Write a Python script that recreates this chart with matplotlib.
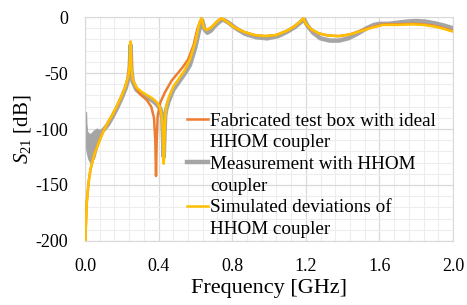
import matplotlib
matplotlib.use("Agg")
import matplotlib.pyplot as plt
from matplotlib.lines import Line2D
from matplotlib.ticker import MultipleLocator

plt.rcParams["font.family"] = ["Liberation Serif", "DejaVu Serif"]
plt.rcParams["mathtext.fontset"] = "custom"
plt.rcParams["mathtext.rm"] = "Liberation Serif"
plt.rcParams["mathtext.it"] = "Liberation Serif:italic"
plt.rcParams["axes.unicode_minus"] = False

# simulated deviations of HHOM coupler (yellow)
f_sim = [0.002, 0.005, 0.01, 0.02, 0.03, 0.05, 0.075, 0.1, 0.125, 0.15, 0.175, 0.2, 0.22, 0.235,
         0.243, 0.248, 0.252, 0.26, 0.28, 0.31, 0.34, 0.37, 0.39, 0.405, 0.415, 0.422, 0.428, 0.432,
         0.436, 0.442, 0.455, 0.48, 0.51, 0.54, 0.57, 0.6, 0.615, 0.625, 0.634, 0.645, 0.66, 0.68,
         0.70, 0.72, 0.743, 0.77, 0.81, 0.86, 0.92, 0.98, 1.04, 1.1, 1.14, 1.17, 1.187, 1.2, 1.23,
         1.27, 1.32, 1.38, 1.44, 1.5, 1.56, 1.62, 1.7, 1.78, 1.84, 1.9, 1.95, 2.0]
s_sim = [-200, -185, -165, -147, -136, -123, -112, -102, -94, -87, -79, -70, -62, -53,
         -42, -22, -45, -56, -63, -67, -70, -73, -76, -80, -86, -98, -131, -110,
         -88, -80, -72, -62, -55, -48, -38, -22, -10, -4, -1, -9, -11.5, -10,
         -7, -3.5, -1, -4, -9, -13, -16, -17, -16, -12, -8, -4, -1, -6, -11,
         -14.5, -16.5, -17, -15.5, -12.5, -9.5, -7, -7, -6.5, -7, -8.5, -10.5, -13]

# fabricated test box with ideal HHOM coupler (orange)
f_fab = [0.002, 0.005, 0.01, 0.02, 0.03, 0.05, 0.075, 0.1, 0.125, 0.15, 0.175, 0.2, 0.22, 0.235,
         0.243, 0.248, 0.252, 0.26, 0.28, 0.3, 0.335, 0.36, 0.375, 0.382, 0.386, 0.39, 0.395,
         0.41, 0.435, 0.47, 0.5, 0.53, 0.56, 0.59, 0.61, 0.625, 0.634, 0.645, 0.66, 0.68,
         0.70, 0.72, 0.743, 0.77, 0.81, 0.86, 0.92, 0.98, 1.04, 1.1, 1.14, 1.17, 1.187, 1.2, 1.23,
         1.27, 1.32, 1.38, 1.44, 1.5, 1.56, 1.62, 1.7, 1.78, 1.84, 1.9, 1.95, 2.0]
s_fab = [-200, -185, -165, -147, -136, -123, -112, -102, -94, -87, -79, -70, -62, -53,
         -42, -22, -45, -56, -64, -69, -74, -80, -90, -110, -142, -110, -88,
         -76, -67, -57, -51, -45, -38, -25, -11, -4, -1, -9, -11.5, -10,
         -7, -3.5, -1, -4, -9, -13, -16, -17, -16, -12, -8, -4, -1, -6, -11,
         -14.5, -16.5, -17, -15.5, -12, -9, -6.5, -6.5, -6, -6.5, -8, -10, -12.5]

# measurement with HHOM coupler (grey)
f_meas = [0.0, 0.003, 0.01, 0.02, 0.04, 0.06, 0.08, 0.1, 0.125, 0.15, 0.175, 0.2, 0.22, 0.235,
          0.243, 0.248, 0.252, 0.26, 0.28, 0.31, 0.34, 0.37, 0.39, 0.41, 0.42, 0.428, 0.432,
          0.436, 0.442, 0.455, 0.48, 0.51, 0.54, 0.57, 0.6, 0.62, 0.637, 0.65, 0.665, 0.685,
          0.705, 0.725, 0.748, 0.78, 0.82, 0.87, 0.93, 0.99, 1.05, 1.1, 1.14, 1.17, 1.19, 1.21,
          1.24, 1.28, 1.33, 1.38, 1.43, 1.48, 1.53, 1.57, 1.6, 1.65, 1.7, 1.75, 1.8, 1.85, 1.9,
          1.95, 2.0]
s_meas = [-87, -105, -112, -115, -113, -108, -103, -101, -96, -89, -81, -72, -64, -56,
          -45, -25, -47, -58, -65, -69, -72, -75, -78, -82, -90, -125, -105,
          -88, -82, -75, -65, -58, -51, -43, -27, -12, -3, -11, -14, -12,
          -8, -5, -2, -5, -10, -15, -18, -19, -17, -13, -9, -5, -2, -8,
          -14, -19, -21, -21, -19, -15, -10, -7, -6, -6, -5, -4, -3.5, -4, -5.5,
          -7.5, -10]

# noisy low-frequency band of the measurement
f_band = [0.0, 0.005, 0.015, 0.025, 0.035, 0.045, 0.055, 0.065, 0.075, 0.085]
band_hi = [-87, -92, -102, -104, -103, -101, -100, -99, -100, -102]
band_lo = [-113, -120, -127, -130, -130, -128, -125, -118, -110, -104]

labels = ["Fabricated test box with ideal", "HHOM coupler",
          "Measurement with HHOM", "coupler",
          "Simulated deviations of", "HHOM coupler"]

c_fab, c_meas, c_sim = "#ED7D31", "#A5A5A5", "#FFC000"

fig = plt.figure(figsize=(4.67, 3.05), dpi=100)
ax = fig.add_axes([0.182, 0.210, 0.788, 0.734])

ax.fill_between(f_band, band_lo, band_hi, color=c_meas, lw=0, zorder=2)
l_meas, = ax.plot(f_meas, s_meas, color=c_meas, lw=3.2, zorder=2)
l_fab, = ax.plot(f_fab, s_fab, color=c_fab, lw=1.8, zorder=3)
l_sim, = ax.plot(f_sim, s_sim, color=c_sim, lw=1.8, zorder=4)

ax.set_xlim(0, 2.0)
ax.set_ylim(-200, 0)
ax.xaxis.set_major_locator(MultipleLocator(0.4))
ax.xaxis.set_minor_locator(MultipleLocator(0.08))
ax.yaxis.set_major_locator(MultipleLocator(50))
ax.yaxis.set_minor_locator(MultipleLocator(10))
ax.xaxis.set_major_formatter(lambda v, p: f"{v:.1f}")
ax.grid(which="major", color="#D9D9D9", lw=0.9, zorder=0)
ax.grid(which="minor", color="#EDEDED", lw=0.8, zorder=0)
ax.set_axisbelow(True)
for sp in ax.spines.values():
    sp.set_color("#D9D9D9")
ax.tick_params(which="both", length=0, labelsize=13, pad=12)

ax.set_xlabel("Frequency [GHz]", fontsize=16, labelpad=3)
ax.set_ylabel(r"$\mathit{S_{21}}$ [dB]", fontsize=15, labelpad=2)

blank = Line2D([], [], color="none")
handles = [l_fab, blank, l_meas, blank, l_sim, blank]
leg_handles = [Line2D([], [], color=h.get_color(), lw=h.get_linewidth()) if h is not blank else blank
               for h in handles]
ax.legend(leg_handles, labels, loc="upper left", bbox_to_anchor=(0.277, 0.574), frameon=False,
          fontsize=13.8, handlelength=1.1, handletextpad=0.1, labelspacing=0.22,
          borderpad=0, borderaxespad=0)

fig.savefig("out.png", dpi=100)
